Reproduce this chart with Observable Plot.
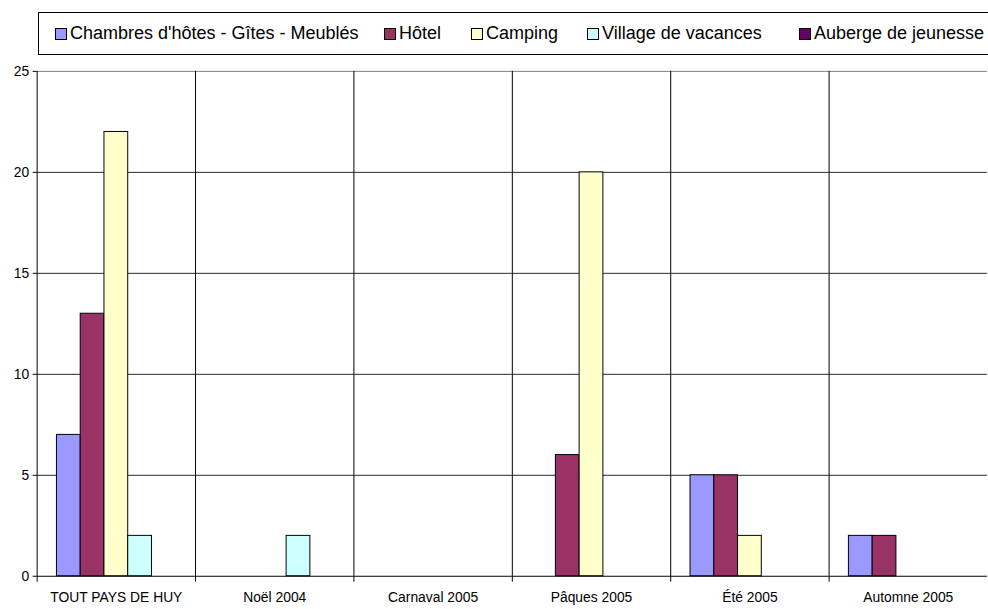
<!DOCTYPE html>
<html>
<head>
<meta charset="utf-8">
<script src="https://cdn.jsdelivr.net/npm/d3@7"></script>
<script src="https://cdn.jsdelivr.net/npm/@observablehq/plot@0.6"></script>
<style>
  html, body { margin: 0; padding: 0; background: #fff; overflow: hidden; width: 988px; height: 609px; }
  body { position: relative; font-family: "Liberation Sans", Arial, sans-serif; }
  #legend { position: absolute; left: 38px; top: 12px; width: 1000px; height: 43px; border: 1px solid #000; box-sizing: border-box;
            font-size: 18px; color: #000; white-space: nowrap; }
  .item { position: absolute; top: 0; height: 41px; display: flex; align-items: center; }
  .sw { width: 10px; height: 10px; border: 1px solid #000; margin-right: 3px; }
  #chart { position: absolute; left: 0; top: 60px; }
  #chart svg { display: block; }
</style>
</head>
<body>
<div id="legend"></div>
<div id="chart"></div>
<script>
const categories = ["TOUT PAYS DE HUY", "Noël 2004", "Carnaval 2005", "Pâques 2005", "Été 2005", "Automne 2005"];
const series = ["Chambres d'hôtes - Gîtes - Meublés", "Hôtel", "Camping", "Village de vacances", "Auberge de jeunesse"];
const colors = ["#9999FF", "#993366", "#FFFFCC", "#CCFFFF", "#660066"];
const chambres = [7, 0, 0, 0, 5, 2];
const hotel    = [13, 0, 0, 6, 5, 2];
const camping  = [22, 0, 0, 20, 2, 0];
const village  = [2, 2, 0, 0, 0, 0];
const auberge  = [0, 0, 0, 0, 0, 0];
const yTicks = [0, 5, 10, 15, 20, 25];

const seriesValues = [chambres, hotel, camping, village, auberge];
const data = categories.flatMap((c, i) => series.map((s, j) => ({category: c, series: s, value: seriesValues[j][i]})));

// Legend (item left offsets inside the legend box)
const legendOffsets = [16, 345, 432, 548, 760];
const legend = document.getElementById("legend");
series.forEach((s, j) => {
  const it = document.createElement("div");
  it.className = "item";
  it.style.left = legendOffsets[j] + "px";
  const sw = document.createElement("div");
  sw.className = "sw";
  sw.style.background = colors[j];
  const tx = document.createElement("span");
  tx.textContent = s;
  it.appendChild(sw); it.appendChild(tx);
  legend.appendChild(it);
});

const chart = Plot.plot({
  width: 998,
  height: 549,
  marginTop: 11,
  marginBottom: 28,
  marginLeft: 37,
  marginRight: 1,
  style: {fontFamily: "'Liberation Sans', Arial, sans-serif", fontSize: "14px", background: "white", color: "#000", overflow: "visible"},
  fx: {domain: categories, padding: 0, label: null, axis: null},
  x: {domain: series, paddingInner: 0, paddingOuter: 0.75, axis: null},
  y: {domain: [0, 25], axis: null},
  color: {domain: series, range: colors},
  marks: [
    Plot.ruleY(yTicks.filter(v => v > 0 && v < 25), {stroke: "#000", strokeOpacity: 0.85}),
    Plot.ruleY([25], {stroke: "#808080"}),
    Plot.frame({anchor: "left", stroke: "#000", insetBottom: -5}),
    Plot.barY(data.filter(d => d.value > 0), {fx: "category", x: "series", y: "value", fill: "series", stroke: "#000", strokeWidth: 1, inset: 0}),
    Plot.ruleY(categories, {fx: d => d, y: () => 0, stroke: "#000"}),
    Plot.axisY({ticks: yTicks, tickSize: 4, tickPadding: 4, tickFormat: d => String(d), label: null, fontSize: 14}),
    Plot.axisFx({anchor: "bottom", tickSize: 0, tickPadding: 16, label: null, fontSize: 14})
  ]
});
document.getElementById("chart").appendChild(chart);
</script>
</body>
</html>
